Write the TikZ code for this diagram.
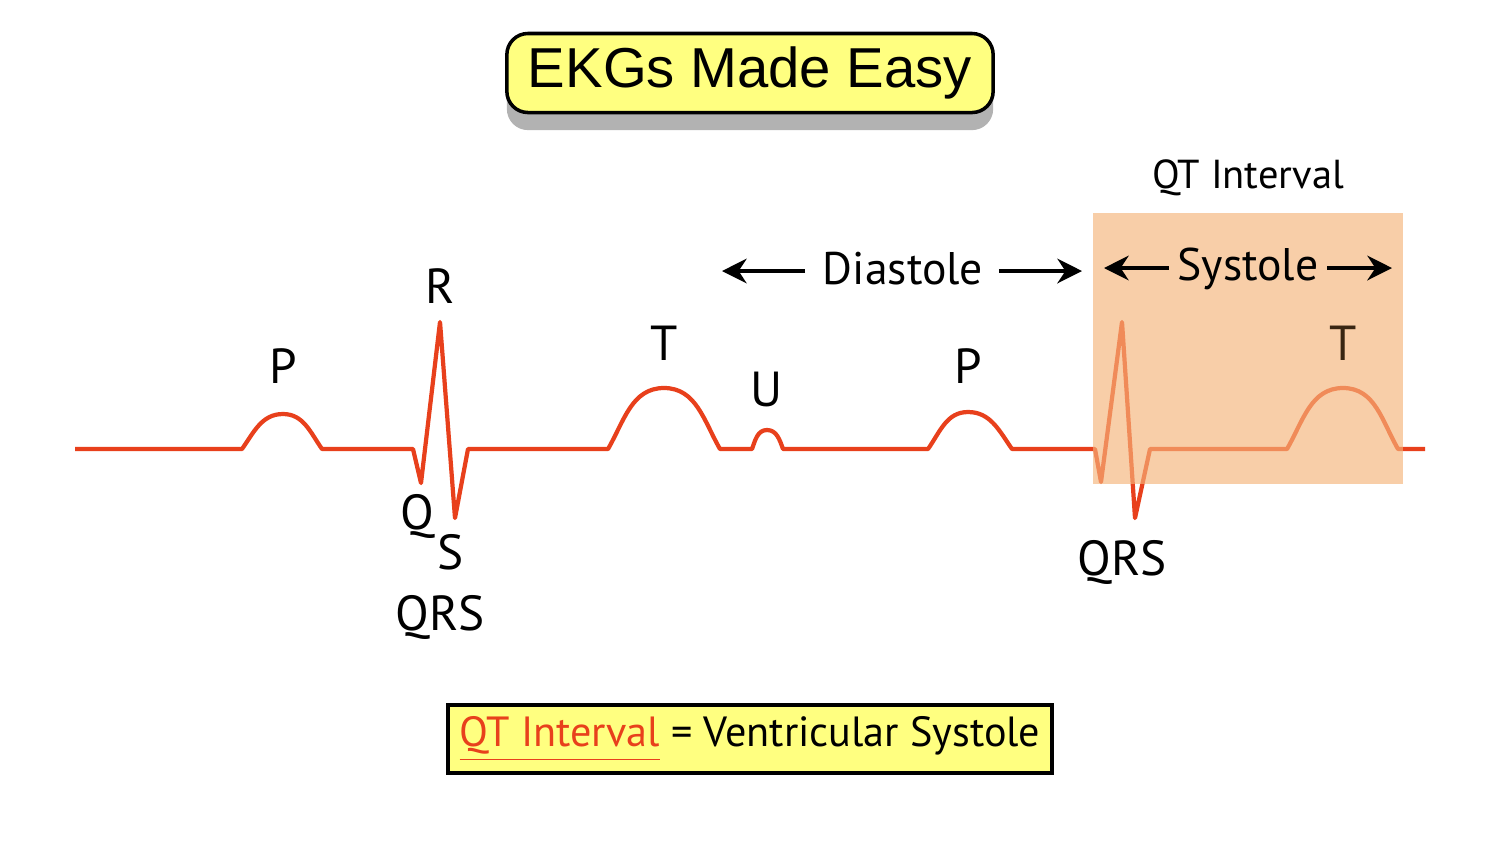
\documentclass[tikz,border=0pt]{standalone}
\usepackage{fontspec}
\setmainfont{PT Sans}
\newfontfamily\titlefont{Liberation Sans}
\usetikzlibrary{arrows.meta,shadows}
\definecolor{ekg}{HTML}{E8401C}
\definecolor{ylw}{HTML}{FFFF80}
\definecolor{qtbox}{HTML}{F5B47A}
\tikzset{
  wave/.style={ekg,line width=1.2pt,line join=round},
  lbl/.style={font=\fontsize{14pt}{16pt}\selectfont,inner sep=0},
  dir/.style={line width=1.1pt,-{Stealth[length=7pt,width=7pt]}},
}
\begin{document}
\begin{tikzpicture}[x=0.01cm,y=-0.01cm]
\useasboundingbox (0,0) rectangle (1500,844);
\fill[white] (0,0) rectangle (1500,844);
% title
\node[draw=black,line width=1pt,fill=ylw,rounded corners=6pt,minimum width=4.86cm,minimum height=0.79cm,
  drop shadow={shadow xshift=0pt,shadow yshift=-5pt,opacity=0.6},font=\titlefont\fontsize{16pt}{18pt}\selectfont] (title) at (750,73) {EKGs Made Easy};
% ECG trace
\draw[wave] (75,449) -- (242,449) to[out=55,in=180] (283,414) to[out=0,in=125] (322,449)
  -- (413,449) -- (421,483) -- (440,322) -- (455,518) -- (468,449) -- (608,449)
  to[out=60,in=180] (664,388) to[out=0,in=120] (720,449) -- (752,449)
  to[out=70,in=180] (767,430) to[out=0,in=110] (783,449) -- (928,449)
  to[out=55,in=180] (968,412) to[out=0,in=125] (1012,449) -- (1095,449)
  -- (1101,482) -- (1122,322) -- (1135,518) -- (1150,449) -- (1287,449)
  to[out=60,in=180] (1343,388) to[out=0,in=120] (1398,449) -- (1425,449);
% QT box
\fill[qtbox,opacity=0.65] (1093,213) rectangle (1403,484);
% labels
\node[lbl] (p1) at (283,366) {P};
\node[lbl] (r1) at (440,286) {R};
\node[lbl] (q1) at (417,516) {Q};
\node[lbl] (s1) at (451,552) {S};
\node[lbl] (qrs1) at (440,617) {QRS};
\node[lbl] (t1) at (664,343) {T};
\node[lbl] (u1) at (767,389) {U};
\node[lbl] (p2) at (968,366) {P};
\node[lbl] (qrs2) at (1122,562) {QRS};
\node[lbl,text=black!70!brown] (t2) at (1343,343) {T};
\node[inner sep=0,font=\fontsize{11.5pt}{13pt}\selectfont] (qt) at (1248,178) {QT Interval};
\node[inner sep=0,font=\fontsize{13pt}{15pt}\selectfont] (dia) at (903,269) {Diastole};
\node[inner sep=0,font=\fontsize{13pt}{15pt}\selectfont] (sys) at (1248,269) {Systole};
\coordinate (da) at (722,271); \coordinate (db) at (1082,271);
\coordinate (sa) at (1104,268); \coordinate (sb) at (1392,268);
\draw[dir] (dia.west)++(-17,2) -- (da);
\draw[dir] (dia.east)++(15,2) -- (db);
\draw[dir] (sys.west)++(-8,-1) -- (sa);
\draw[dir] (sys.east)++(8,-1) -- (sb);
% bottom box
\node[draw=black,line width=1pt,fill=ylw,minimum width=5.94cm,minimum height=0.55cm,
  font=\fontsize{12pt}{14pt}\selectfont] (eq) at (750,739)
  {\textcolor{ekg}{\underline{QT Interval}} = Ventricular Systole};
\end{tikzpicture}
\end{document}
